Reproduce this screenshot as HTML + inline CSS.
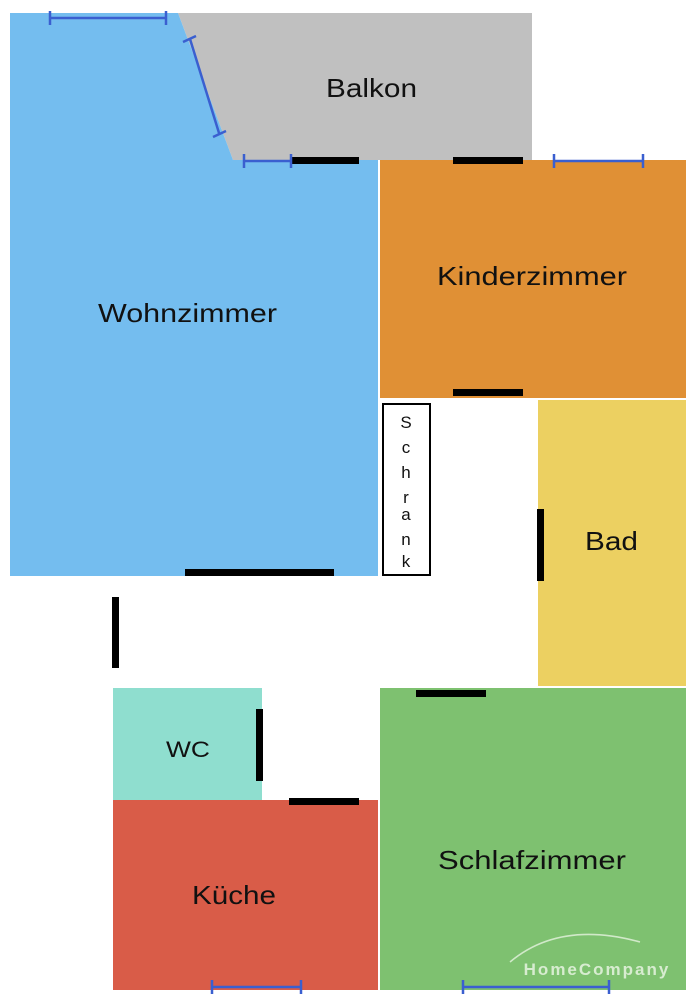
<!DOCTYPE html>
<html><head><meta charset="utf-8"><style>
body{margin:0;background:#fff}
svg{display:block}
text{font-family:"Liberation Sans","DejaVu Sans",sans-serif;fill:#111}
</style></head><body>
<svg width="698" height="1000" viewBox="0 0 698 1000">
<polygon points="178,13 532,13 532,160 233,160" fill="#c0c0c0"/>
<polygon points="10,13 178,13 233,160 378,160 378,576 10,576" fill="#74bdef"/>
<rect x="380" y="160" width="306" height="238" fill="#e09035"/>
<rect x="538" y="400" width="148" height="286" fill="#ecd061"/>
<rect x="380" y="688" width="306" height="302" fill="#7ec170"/>
<rect x="113" y="688" width="149" height="112" fill="#8fdecf"/>
<rect x="113" y="800" width="265" height="190" fill="#d95c48"/>
<rect x="383" y="404" width="47" height="171" fill="#fff" stroke="#000" stroke-width="2"/>
<g fill="#000">
<rect x="291" y="157" width="68" height="7"/>
<rect x="453" y="157" width="70" height="7"/>
<rect x="453" y="389" width="70" height="7"/>
<rect x="185" y="569" width="149" height="7"/>
<rect x="112" y="597" width="7" height="71"/>
<rect x="537" y="509" width="7" height="72"/>
<rect x="416" y="690" width="70" height="7"/>
<rect x="256" y="709" width="7" height="72"/>
<rect x="289" y="798" width="70" height="7"/>
</g>
<g stroke="#3a5fd0" stroke-width="2.5" fill="none">
<path d="M50,18H166M50,11V25M166,11V25"/>
<path d="M190,39L219,133M183,42L196,36M213,137L226,131"/>
<path d="M244,161H291M244,154V168M291,154V168"/>
<path d="M554,161H643M554,154V168M643,154V168"/>
<path d="M212,987H301M212,980V994M301,980V994"/>
<path d="M463,987H609M463,980V994M609,980V994"/>
</g>
<text x="326" y="97" font-size="26" textLength="91" lengthAdjust="spacingAndGlyphs">Balkon</text>
<text x="98" y="322" font-size="26" textLength="179" lengthAdjust="spacingAndGlyphs">Wohnzimmer</text>
<text x="437" y="285" font-size="26" textLength="190" lengthAdjust="spacingAndGlyphs">Kinderzimmer</text>
<text x="585" y="550" font-size="26" textLength="53" lengthAdjust="spacingAndGlyphs">Bad</text>
<text x="438" y="869" font-size="26" textLength="188" lengthAdjust="spacingAndGlyphs">Schlafzimmer</text>
<text x="166" y="757" font-size="22" textLength="44" lengthAdjust="spacingAndGlyphs">WC</text>
<text x="192" y="904" font-size="26" textLength="84" lengthAdjust="spacingAndGlyphs">Küche</text>
<g font-size="17" text-anchor="middle">
<text x="406" y="428">S</text><text x="406" y="453">c</text><text x="406" y="478">h</text>
<text x="406" y="503">r</text><text x="406" y="520">a</text><text x="406" y="545">n</text><text x="406" y="567">k</text>
</g>
<path d="M510,962 Q560,920 640,942" stroke="#e6f2e0" stroke-width="1.5" fill="none" opacity="0.8"/>
<text x="597" y="975" font-size="17" font-weight="bold" text-anchor="middle" style="fill:#d7ecd0;letter-spacing:2px">HomeCompany</text>
</svg>
</body></html>
